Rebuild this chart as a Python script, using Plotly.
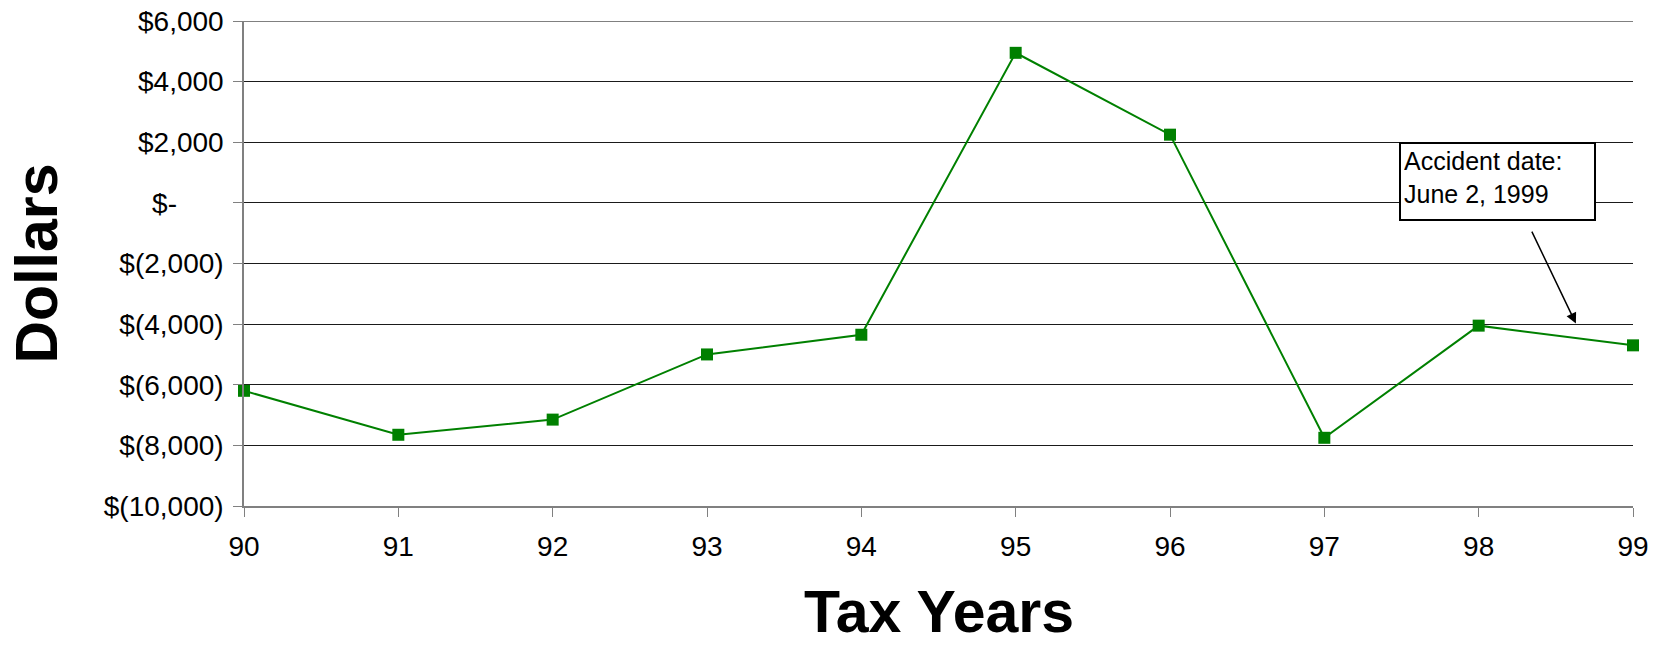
import plotly.graph_objects as go

# ---- data ----
tax_years = [90, 91, 92, 93, 94, 95, 96, 97, 98, 99]
dollars = [-6200, -7650, -7150, -5000, -4350, 4950, 2250, -7750, -4050, -4700]

NB = "\u00a0"
y_tick_vals = [6000, 4000, 2000, 0, -2000, -4000, -6000, -8000, -10000]
y_tick_text = ["$6,000", "$4,000", "$2,000", "$-" + NB * 6, "$(2,000)", "$(4,000)",
               "$(6,000)", "$(8,000)", "$(10,000)"]
x_tick_text = ["90", "91", "92", "93", "94", "95", "96", "97", "98", "99"]

FONT = "Liberation Sans, Arial, sans-serif"
GREEN = "#008000"

fig = go.Figure()
fig.add_trace(go.Scatter(
    x=tax_years, y=dollars, mode="lines+markers",
    line=dict(color=GREEN, width=2),
    marker=dict(symbol="square", size=12, color=GREEN),
    cliponaxis=False, showlegend=False,
))

fig.update_layout(
    width=1660, height=645,
    margin=dict(l=244, r=27, t=21, b=139),
    paper_bgcolor="white", plot_bgcolor="white",
    font=dict(family=FONT, color="black"),
    showlegend=False,
)

fig.update_xaxes(
    range=[90, 99], tickvals=tax_years, ticktext=x_tick_text,
    showgrid=False, zeroline=False,
    showline=True, linecolor="#808080", linewidth=1.5,
    ticks="outside", ticklen=9, tickcolor="#808080", tickwidth=1,
    tickfont=dict(size=28, family=FONT, color="black"),
    ticklabelstandoff=6,
    automargin=False,
)
fig.update_yaxes(
    range=[-10000, 6000], tickvals=y_tick_vals, ticktext=y_tick_text,
    showgrid=True, gridcolor="#1a1a1a", gridwidth=1,
    zeroline=False,
    showline=True, linecolor="#808080", linewidth=1.5,
    ticks="outside", ticklen=9, tickcolor="#808080", tickwidth=1,
    tickfont=dict(size=28, family=FONT, color="black"),
    ticklabelstandoff=4,
    automargin=False,
)

# top border line drawn in grey like the reference
fig.add_shape(type="line", xref="paper", yref="y", x0=0, x1=1,
              y0=y_tick_vals[0], y1=y_tick_vals[0],
              line=dict(color="#808080", width=2), layer="above")

# axis titles
fig.add_annotation(
    text="<b>Tax Years</b>", xref="paper", yref="paper", x=0.5, y=0,
    xanchor="center", yanchor="middle", yshift=-106, showarrow=False,
    font=dict(size=59, family=FONT, color="black"),
)
fig.add_annotation(
    text="<b>Dollars</b>", xref="paper", yref="paper", x=0, y=0.5,
    xanchor="center", yanchor="middle", xshift=-208, textangle=-90,
    showarrow=False, font=dict(size=59, family=FONT, color="black"),
)

# callout box
fig.add_annotation(
    text="Accident date:<br>June 2, 1999", xref="x", yref="y",
    x=98.12, y=700, xanchor="center", yanchor="middle",
    showarrow=False, align="left", valign="top", width=187, height=69,
    bordercolor="black", borderwidth=2, borderpad=3, bgcolor="white",
    font=dict(size=25, family=FONT, color="black"),
)
# arrow
fig.add_annotation(
    text="", xref="x", yref="y", x=98.63, y=-3980,
    axref="x", ayref="y", ax=98.34, ay=-900,
    showarrow=True, arrowhead=2, arrowsize=1.4, arrowwidth=1.5,
    arrowcolor="black",
)

fig.write_html("out.html")
